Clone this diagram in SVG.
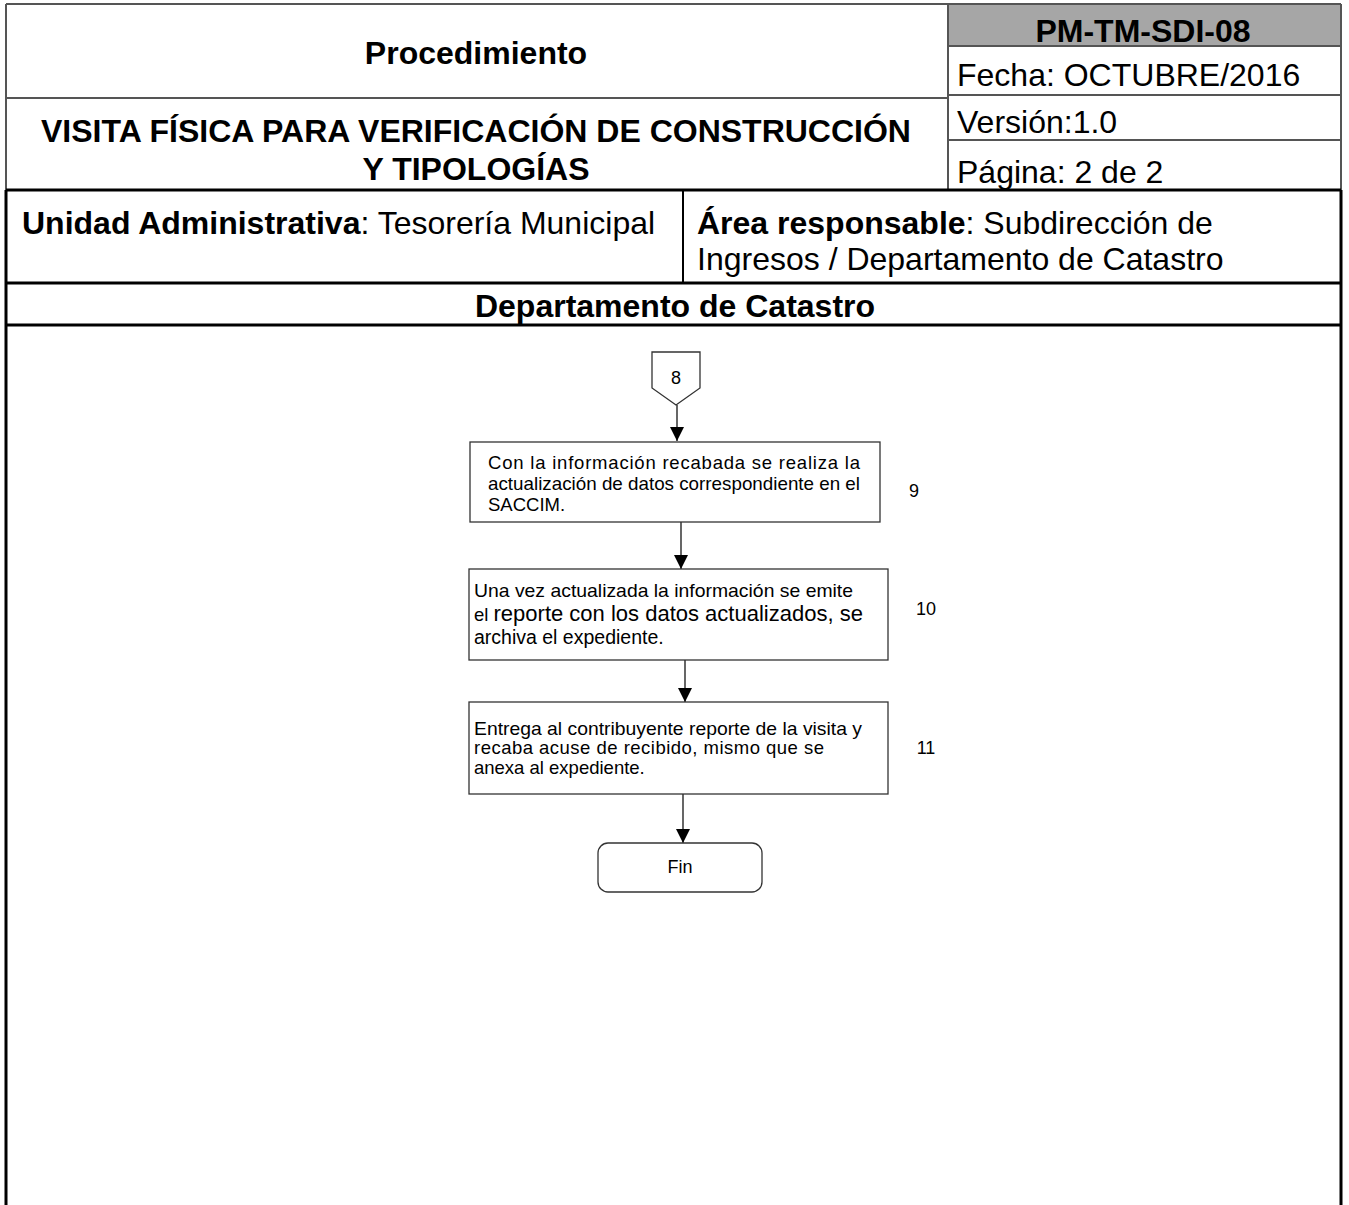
<svg xmlns="http://www.w3.org/2000/svg" width="1349" height="1205" viewBox="0 0 1349 1205">
<style>
.t{font-family:"Liberation Sans",Arial,sans-serif;fill:#000}
.b{font-weight:bold}
.h{font-size:32px}
.s{font-size:18.5px}
.g{stroke:#555;stroke-width:2;fill:none}
.k{stroke:#000;stroke-width:3;fill:none}
.box{fill:#fff;stroke:#333;stroke-width:1.3}
.con{stroke:#000;stroke-width:1.2;fill:none}
.n{font-size:18px}
</style>
<defs>
<marker id="ah" markerWidth="14" markerHeight="14" refX="14" refY="7" orient="auto" markerUnits="userSpaceOnUse" viewBox="0 0 14 14">
<path d="M0,0 L14,7 L0,14 Z" fill="#000"/>
</marker>
</defs>
<rect width="1349" height="1205" fill="#fff"/>
<g id="header">
<rect x="948" y="4" width="393" height="42" fill="#a6a6a6"/>
<path class="g" d="M6,4 H1341 M6,4 V190 M948,4 V190 M1341,4 V190 M6,98 H948 M948,46 H1341 M948,95 H1341 M948,140 H1341"/>
<path class="k" d="M6,190 H1341 M6,283 H1341 M6,325 H1341 M6,190 V1205 M1341,190 V1205"/>
<path d="M683,190 V283" stroke="#000" stroke-width="2"/>
<text class="t b h" x="476" y="64" text-anchor="middle">Procedimiento</text>
<text class="t b h" x="476" y="142" text-anchor="middle">VISITA FÍSICA PARA VERIFICACIÓN DE CONSTRUCCIÓN</text>
<text class="t b h" x="476" y="180" text-anchor="middle">Y TIPOLOGÍAS</text>
<text class="t b h" x="1143" y="42" text-anchor="middle">PM-TM-SDI-08</text>
<text class="t h" x="957" y="86">Fecha: OCTUBRE/2016</text>
<text class="t h" x="957" y="133">Versión:1.0</text>
<text class="t h" x="957" y="183">Página: 2 de 2</text>
<text class="t h" x="22" y="234"><tspan class="b">Unidad Administrativa</tspan>: Tesorería Municipal</text>
<text class="t h" x="697" y="234"><tspan class="b">Área responsable</tspan>: Subdirección de</text>
<text class="t h" x="697" y="270">Ingresos / Departamento de Catastro</text>
<text class="t b h" x="675" y="317" text-anchor="middle">Departamento de Catastro</text>
</g>
<g id="connectors">
<path class="con" d="M677,405 V441" marker-end="url(#ah)"/>
<path class="con" d="M681,522 V569" marker-end="url(#ah)"/>
<path class="con" d="M685,660 V702" marker-end="url(#ah)"/>
<path class="con" d="M683,794 V843" marker-end="url(#ah)"/>
</g>
<g id="n8">
<path class="box" d="M652,352 H700 V388 L676,405 L652,388 Z"/>
<text class="t n" x="676" y="384" text-anchor="middle">8</text>
</g>
<g id="n9">
<rect class="box" x="470" y="442" width="410" height="80"/>
<text class="t s" x="488" y="469" textLength="372" lengthAdjust="spacing">Con la información recabada se realiza la</text>
<text class="t s" x="488" y="490" textLength="372" lengthAdjust="spacingAndGlyphs">actualización de datos correspondiente en el</text>
<text class="t s" x="488" y="511">SACCIM.</text>
<text class="t n" x="914" y="497" text-anchor="middle">9</text>
</g>
<g id="n10">
<rect class="box" x="469" y="569" width="419" height="91"/>
<text class="t" font-size="19" x="474" y="597" textLength="379" lengthAdjust="spacingAndGlyphs">Una vez actualizada la información se emite</text>
<text class="t s" x="474" y="621">el <tspan font-size="22">reporte con los datos actualizados, se</tspan></text>
<text class="t" font-size="19.5" x="474" y="644">archiva el expediente.</text>
<text class="t n" x="926" y="615" text-anchor="middle">10</text>
</g>
<g id="n11">
<rect class="box" x="469" y="702" width="419" height="92"/>
<text class="t s" x="474" y="735" textLength="388" lengthAdjust="spacingAndGlyphs">Entrega al contribuyente reporte de la visita y</text>
<text class="t s" x="474" y="754" textLength="350" lengthAdjust="spacing">recaba acuse de recibido, mismo que se</text>
<text class="t s" x="474" y="774">anexa al expediente.</text>
<text class="t n" x="926" y="754" text-anchor="middle">11</text>
</g>
<g id="fin">
<rect class="box" x="598" y="843" width="164" height="49" rx="10" stroke-width="1.6"/>
<text class="t n" x="680" y="873" text-anchor="middle">Fin</text>
</g>
</svg>
